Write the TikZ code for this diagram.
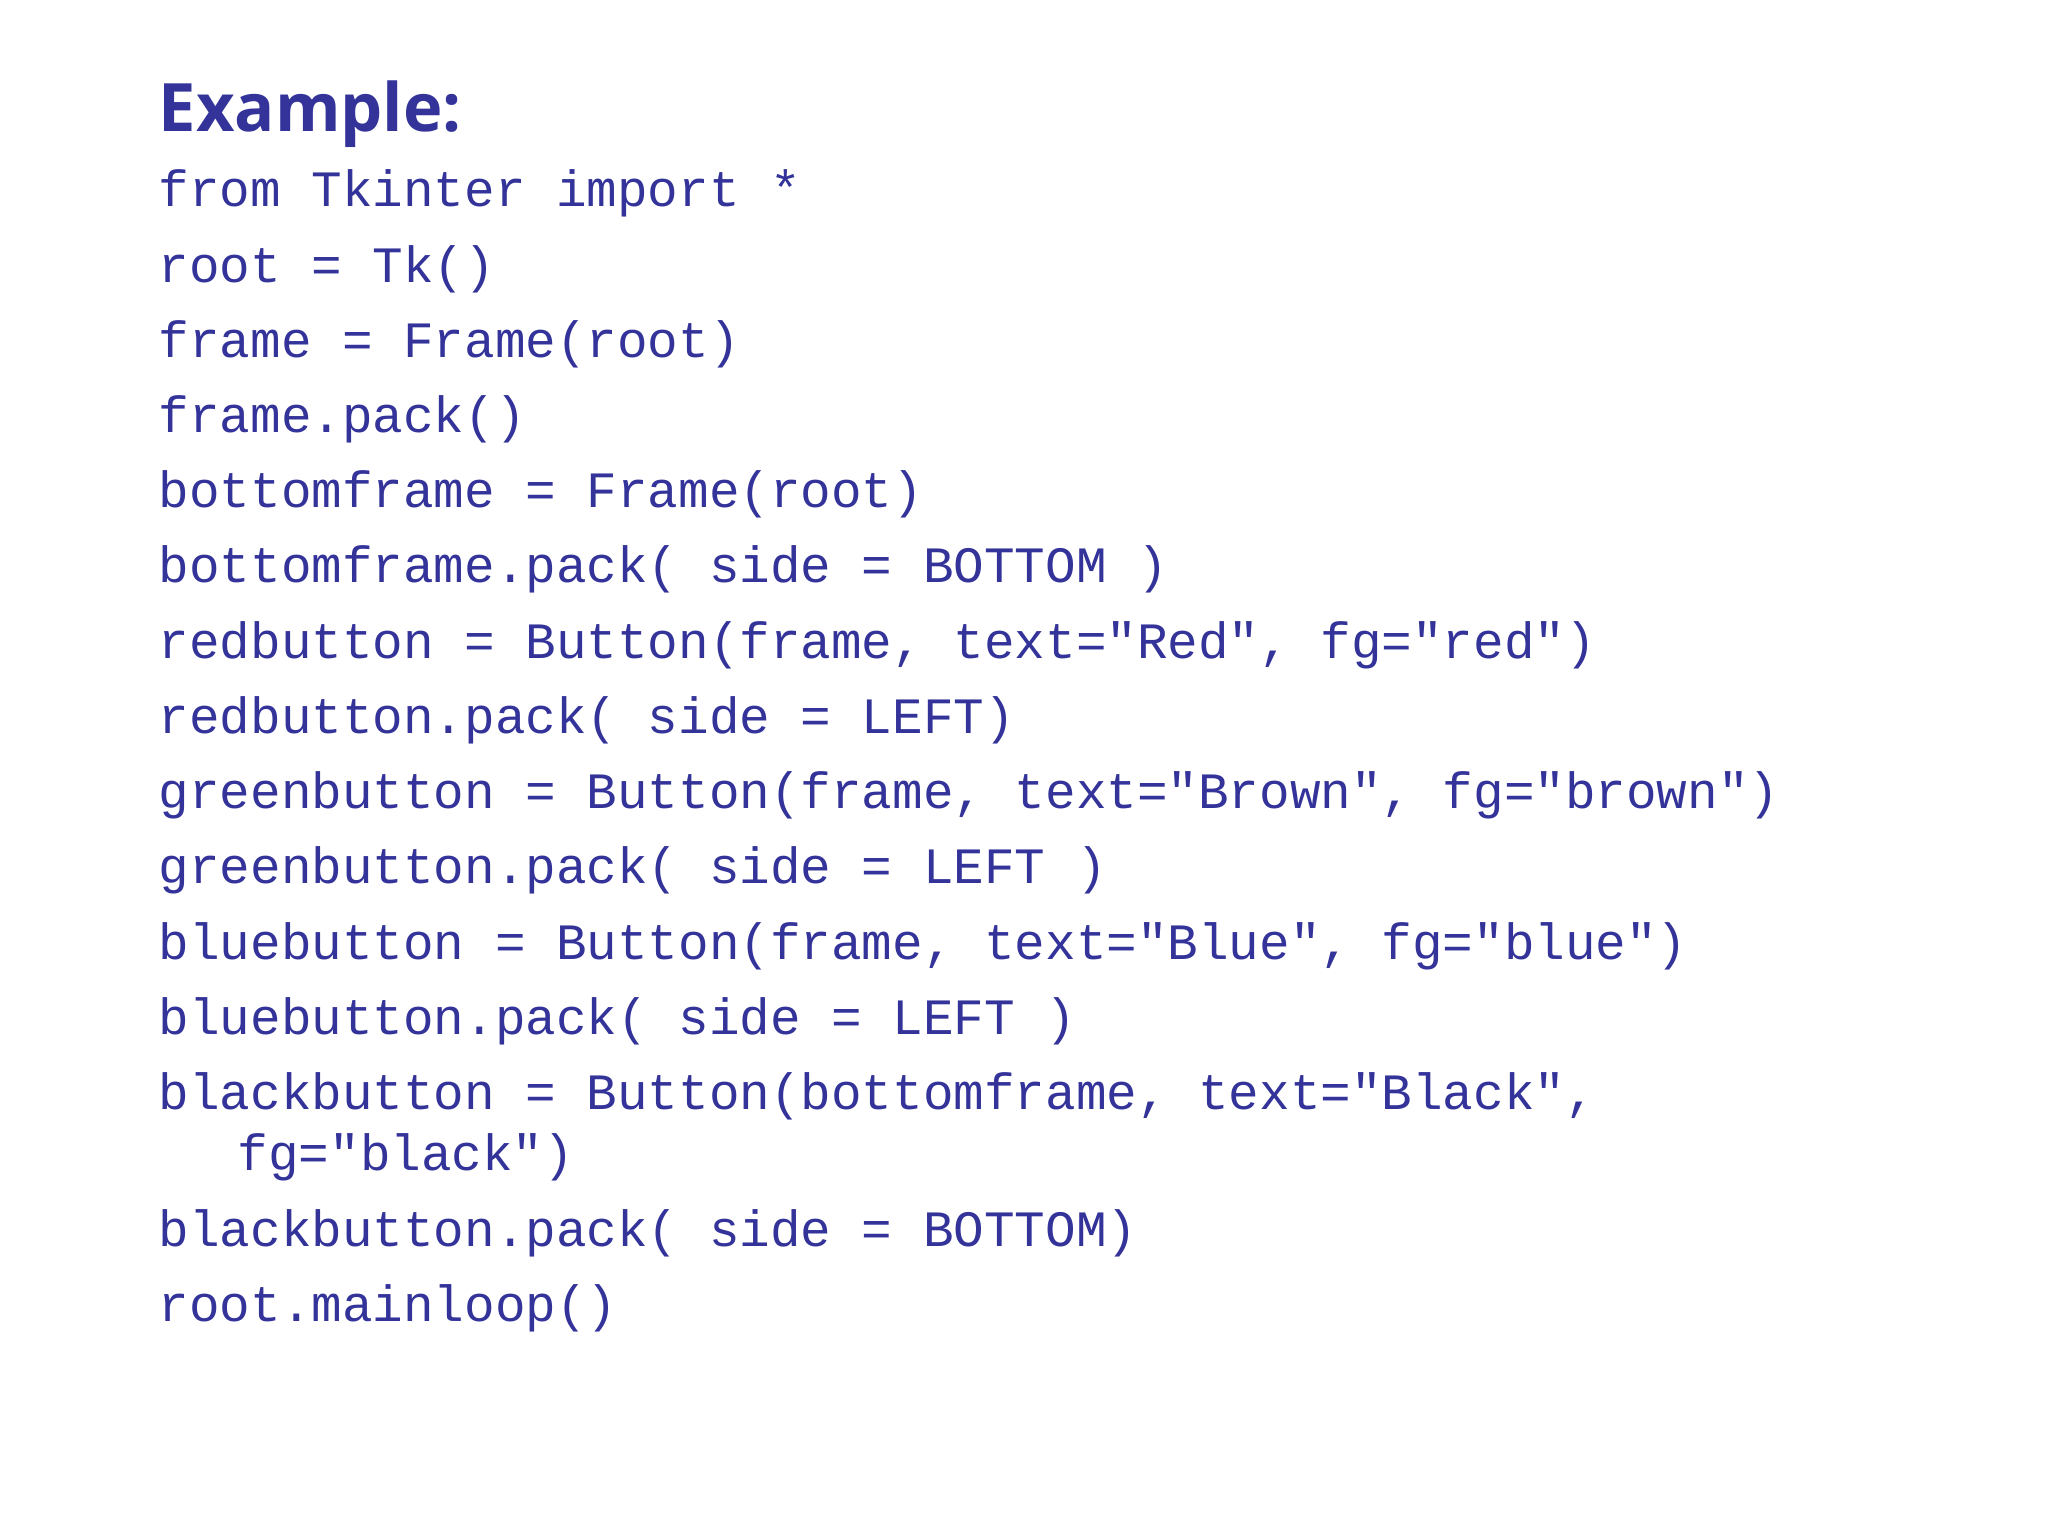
\documentclass[tikz,border=0pt]{standalone}
\usepackage{fontspec}
\setmainfont{Open Sans}
\newfontfamily\codefont{Liberation Mono}
\definecolor{ink}{HTML}{33339A}
\tikzset{code/.style={anchor=base west,inner sep=0pt,text=ink,font=\codefont\fontsize{14.5pt}{16pt}\selectfont},
title/.style={anchor=base west,inner sep=0pt,text=ink,font=\bfseries\fontsize{19pt}{22pt}\selectfont}}
\begin{document}
\begin{tikzpicture}
\useasboundingbox (0,0) rectangle (20.48,-15.36);
\node[title] (t) at (1.58,-1.32) {Example:};
\foreach \txt [count=\i] in {
{from Tkinter import *},
{root = Tk()},
{frame = Frame(root)},
{frame.pack()},
{bottomframe = Frame(root)},
{bottomframe.pack( side = BOTTOM )},
{redbutton = Button(frame, text="Red", fg="red")},
{redbutton.pack( side = LEFT)},
{greenbutton = Button(frame, text="Brown", fg="brown")},
{greenbutton.pack( side = LEFT )},
{bluebutton = Button(frame, text="Blue", fg="blue")},
{bluebutton.pack( side = LEFT )},
{blackbutton = Button(bottomframe, text="Black",}}
{\node[code] (l\i) at (1.58,{-2.07-0.752*(\i-1)}) {\txt};}
\node[code] (c) at (2.37,-11.70) {fg="black")};
\node[code] (l14) at (1.58,-12.46) {blackbutton.pack( side = BOTTOM)};
\node[code] (l15) at (1.58,-13.21) {root.mainloop()};
\end{tikzpicture}
\end{document}
